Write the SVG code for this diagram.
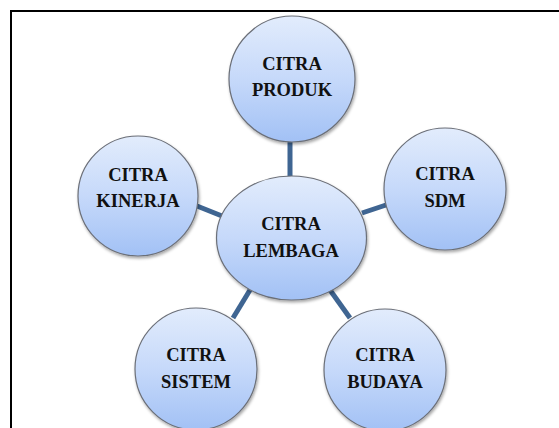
<svg xmlns="http://www.w3.org/2000/svg" width="559" height="428" viewBox="0 0 559 428">
<style>
.node{fill:url(#g);stroke:#6b6f78;stroke-width:1.2;filter:url(#sh)}
.t{font-family:"Liberation Serif","Times New Roman",serif;font-weight:bold;font-size:18.5px;fill:#111;text-anchor:middle}
.c{stroke:#3f6592;stroke-width:5;fill:none}
</style>
<defs>
<linearGradient id="g" x1="0" y1="0" x2="0" y2="1">
<stop offset="0" stop-color="#e2ecfc"/>
<stop offset="0.5" stop-color="#c6d9fa"/>
<stop offset="1" stop-color="#a2c1f5"/>
</linearGradient>
<filter id="sh" x="-20%" y="-20%" width="140%" height="140%">
<feDropShadow dx="1" dy="2" stdDeviation="1.5" flood-color="#000" flood-opacity="0.35"/>
</filter>
</defs>
<rect width="559" height="428" fill="#fff"/>
<path d="M11 428V11H559" fill="none" stroke="#000" stroke-width="2"/>
<g id="connectors">
<line class="c" x1="290" y1="140" x2="290" y2="177"/>
<line class="c" x1="197" y1="206" x2="222" y2="216"/>
<line class="c" x1="362" y1="213" x2="386" y2="205"/>
<line class="c" x1="250" y1="290" x2="233" y2="318"/>
<line class="c" x1="330" y1="290" x2="350" y2="318"/>
</g>
<g id="produk"><circle class="node" cx="292" cy="79" r="63"/><text class="t" x="292" y="70">CITRA</text><text class="t" x="292" y="96">PRODUK</text></g>
<g id="kinerja"><circle class="node" cx="138" cy="196" r="60"/><text class="t" x="138" y="181">CITRA</text><text class="t" x="138" y="207">KINERJA</text></g>
<g id="sdm"><circle class="node" cx="445" cy="189" r="61"/><text class="t" x="445" y="180">CITRA</text><text class="t" x="445" y="207">SDM</text></g>
<g id="lembaga"><ellipse class="node" cx="291.5" cy="238" rx="75" ry="62"/><text class="t" x="291" y="230">CITRA</text><text class="t" x="291" y="257">LEMBAGA</text></g>
<g id="sistem"><circle class="node" cx="196" cy="369" r="61"/><text class="t" x="196" y="361">CITRA</text><text class="t" x="196" y="388">SISTEM</text></g>
<g id="budaya"><circle class="node" cx="385" cy="370" r="61"/><text class="t" x="385" y="361">CITRA</text><text class="t" x="385" y="388">BUDAYA</text></g>
</svg>
